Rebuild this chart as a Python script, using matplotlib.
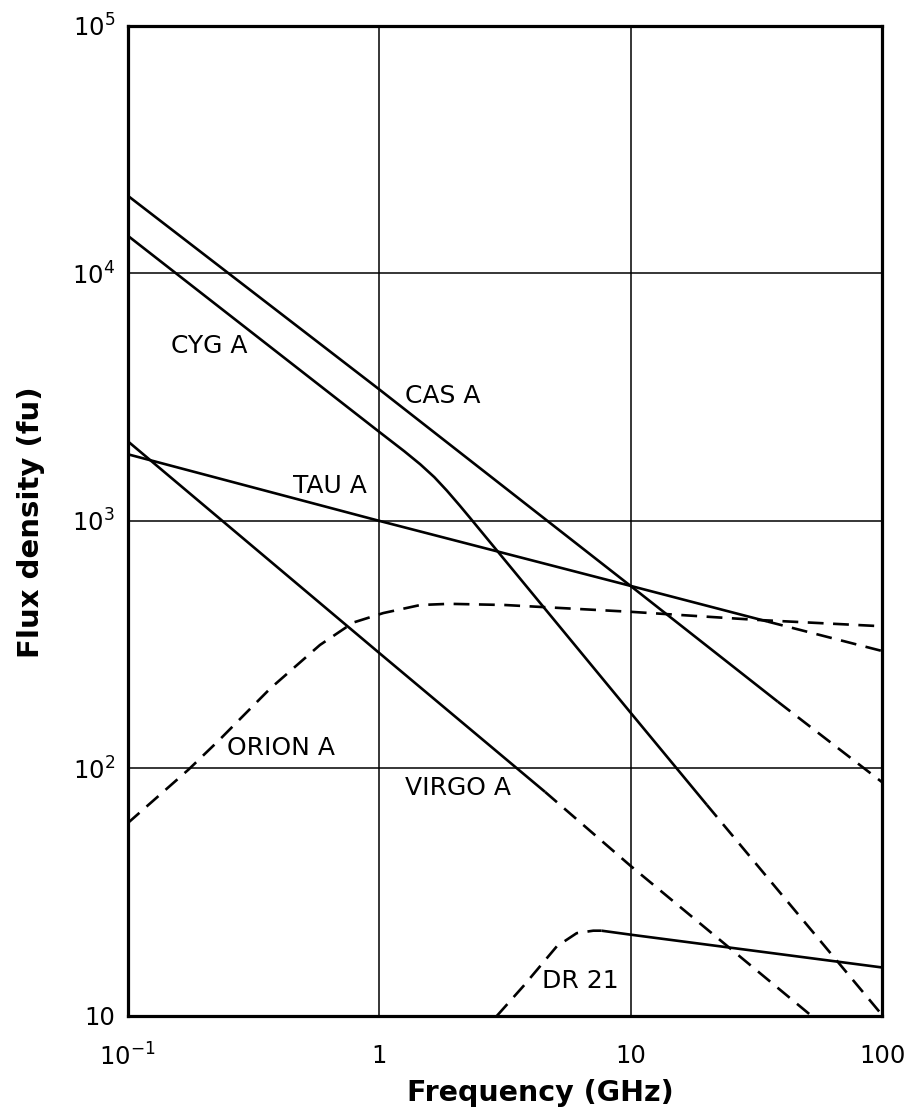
import numpy as np
import matplotlib.pyplot as plt

# Flux density of strong radio sources vs frequency (log-log)

cas_f = [0.1, 1.0, 10.0, 38.5]
cas_s = [20600, 3400, 546, 186]
cas_f_ext = [38.5, 100.0]
cas_s_ext = [186, 88]

cyg_f = [0.1, 1.0, 1.26, 1.46, 1.66, 1.86, 2.09, 2.30, 10.0, 20.1]
cyg_s = [14200, 2290, 1910, 1690, 1500, 1325, 1155, 1028, 168, 71.3]
cyg_f_ext = [20.1, 100.0]
cyg_s_ext = [71.3, 10.1]

tau_f = [0.1, 1.0, 10.0, 35.0]
tau_s = [1858, 1000, 546, 392]
tau_f_ext = [35.0, 100.0]
tau_s_ext = [392, 298]

vir_f = [0.1, 1.0, 4.57]
vir_s = [2100, 293, 80.4]
vir_f_ext = [4.57, 10.0, 52.5]
vir_s_ext = [80.4, 40.4, 10.0]

ori_f = [0.1, 0.175, 0.233, 0.369, 0.582, 0.789, 1.04, 1.46, 1.9, 3.16, 10.0, 31.6, 100.0]
ori_s = [60, 99, 131, 210, 315, 388, 424, 457, 462, 457, 429, 398, 375]

dr_f_ext = [2.94, 3.75, 5.09, 6.11, 7.11, 7.67]
dr_s_ext = [10.0, 13.2, 19.1, 21.6, 22.1, 22.1]
dr_f = [7.67, 10.0, 100.0]
dr_s = [22.1, 21.3, 15.7]

labels = ['CYG A', 'CAS A', 'TAU A', 'ORION A', 'VIRGO A', 'DR 21']
label_f = [0.211, 1.797, 0.638, 0.408, 2.06, 6.3]
label_s = [5080, 3195, 1384, 121, 83.4, 13.8]

x_ticks = [0.1, 1, 10, 100]
x_ticklabels = [r'$10^{-1}$', '1', '10', '100']
y_ticks = [10, 1e2, 1e3, 1e4, 1e5]
y_ticklabels = ['10', r'$10^2$', r'$10^3$', r'$10^4$', r'$10^5$']

plt.rcParams['font.family'] = ['DejaVu Sans']
plt.rcParams['mathtext.fontset'] = 'dejavusans'

fig = plt.figure(figsize=(9.09, 11.2), dpi=100)
ax = fig.add_axes([0.1403, 0.0929, 0.8300, 0.8842])

lw = 1.9
dash = (0, (6, 3.6))
solid_sets = [(cas_f, cas_s), (cyg_f, cyg_s), (tau_f, tau_s), (vir_f, vir_s), (dr_f, dr_s)]
dashed_sets = [(cas_f_ext, cas_s_ext), (cyg_f_ext, cyg_s_ext), (tau_f_ext, tau_s_ext),
               (vir_f_ext, vir_s_ext), (ori_f, ori_s), (dr_f_ext, dr_s_ext)]

for f, s in solid_sets:
    ax.plot(f, s, color='black', lw=lw, solid_capstyle='butt', zorder=3)
for f, s in dashed_sets:
    ax.plot(f, s, color='black', lw=lw, linestyle=dash, zorder=3)

for txt, f, s in zip(labels, label_f, label_s):
    ax.text(f, s, txt, fontsize=18, ha='center', va='center', zorder=4)

ax.set_xscale('log')
ax.set_yscale('log')
ax.set_xlim(0.1, 100)
ax.set_ylim(10, 1e5)

ax.set_xticks(x_ticks)
ax.set_xticklabels(x_ticklabels)
ax.set_yticks(y_ticks)
ax.set_yticklabels(y_ticklabels)
ax.minorticks_off()
ax.tick_params(axis='both', length=0, labelsize=17.5)
ax.tick_params(axis='x', pad=20)
ax.tick_params(axis='y', pad=9)

ax.grid(True, which='major', color='black', lw=1.1)
for sp in ax.spines.values():
    sp.set_linewidth(2.3)

fig.text(0.594, 0.024, 'Frequency (GHz)', fontsize=20.5, fontweight='bold',
         ha='center', va='center')
fig.text(0.034, 0.534, 'Flux density (fu)', fontsize=21, fontweight='bold',
         ha='center', va='center', rotation=90)

fig.savefig('out.png', dpi=100)
